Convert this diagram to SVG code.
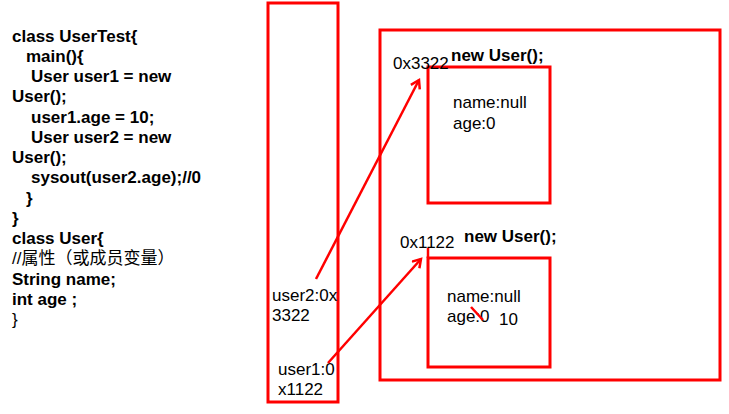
<svg xmlns="http://www.w3.org/2000/svg" width="729" height="414" viewBox="0 0 729 414">
<defs>
<style>
text{font-family:"Liberation Sans",Arial,"Noto Sans CJK SC",sans-serif;font-size:17px;fill:#000}
.b{font-weight:bold}
.box{fill:none;stroke:#ff0000;stroke-width:3}
.ln{fill:none;stroke:#ff0000;stroke-width:2.5}
</style>
<marker id="ah" markerWidth="12" markerHeight="12" refX="9" refY="6" orient="auto" markerUnits="userSpaceOnUse">
<path d="M1,1 L9,6 L1,11" fill="none" stroke="#ff0000" stroke-width="2.5"/>
</marker>
</defs>
<rect width="729" height="414" fill="#fff"/>
<g id="code">
<text class="b" x="12" y="42">class UserTest{</text>
<text class="b" x="26" y="62">main(){</text>
<text class="b" x="31" y="82">User user1 = new</text>
<text class="b" x="12" y="102">User();</text>
<text class="b" x="31" y="123">user1.age = 10;</text>
<text class="b" x="31" y="143">User user2 = new</text>
<text class="b" x="12" y="163">User();</text>
<text class="b" x="31" y="183">sysout(user2.age);//0</text>
<text class="b" x="26" y="204">}</text>
<text class="b" x="12" y="224">}</text>
<text class="b" x="12" y="244">class User{</text>
<text x="12" y="264">//属性（或成员变量）</text>
<text class="b" x="12" y="285">String name;</text>
<text class="b" x="12" y="305">int age ;</text>
<text x="12" y="325">}</text>
</g>
<g id="stack">
<rect class="box" x="268" y="3" width="70" height="399"/>
<text x="272" y="301">user2:0x</text>
<text x="272" y="321">3322</text>
<text x="278" y="375">user1:0</text>
<text x="278" y="395">x1122</text>
</g>
<g id="heap">
<rect class="box" x="380" y="30" width="340" height="350"/>
</g>
<g id="obj1">
<rect class="box" x="428" y="67" width="122" height="136"/>
<text x="393" y="69">0x3322</text>
<text class="b" x="451" y="61">new User();</text>
<text x="453" y="108">name:null</text>
<text x="453" y="129">age:0</text>
</g>
<g id="obj2">
<rect class="box" x="428" y="258" width="122" height="109"/>
<text x="400" y="248">0x1122</text>
<text class="b" x="464" y="242">new User();</text>
<text x="447" y="302">name:null</text>
<text x="447" y="322">age:0</text>
<text x="499" y="325">10</text>
</g>
<g id="connectors">
<line class="ln" x1="316" y1="279" x2="419" y2="80" marker-end="url(#ah)"/>
<line class="ln" x1="328" y1="363" x2="421" y2="259" marker-end="url(#ah)"/>
<line class="ln" x1="428" y1="248" x2="428" y2="258"/>
<line class="ln" x1="471" y1="307" x2="483" y2="320"/>
</g>
</svg>
